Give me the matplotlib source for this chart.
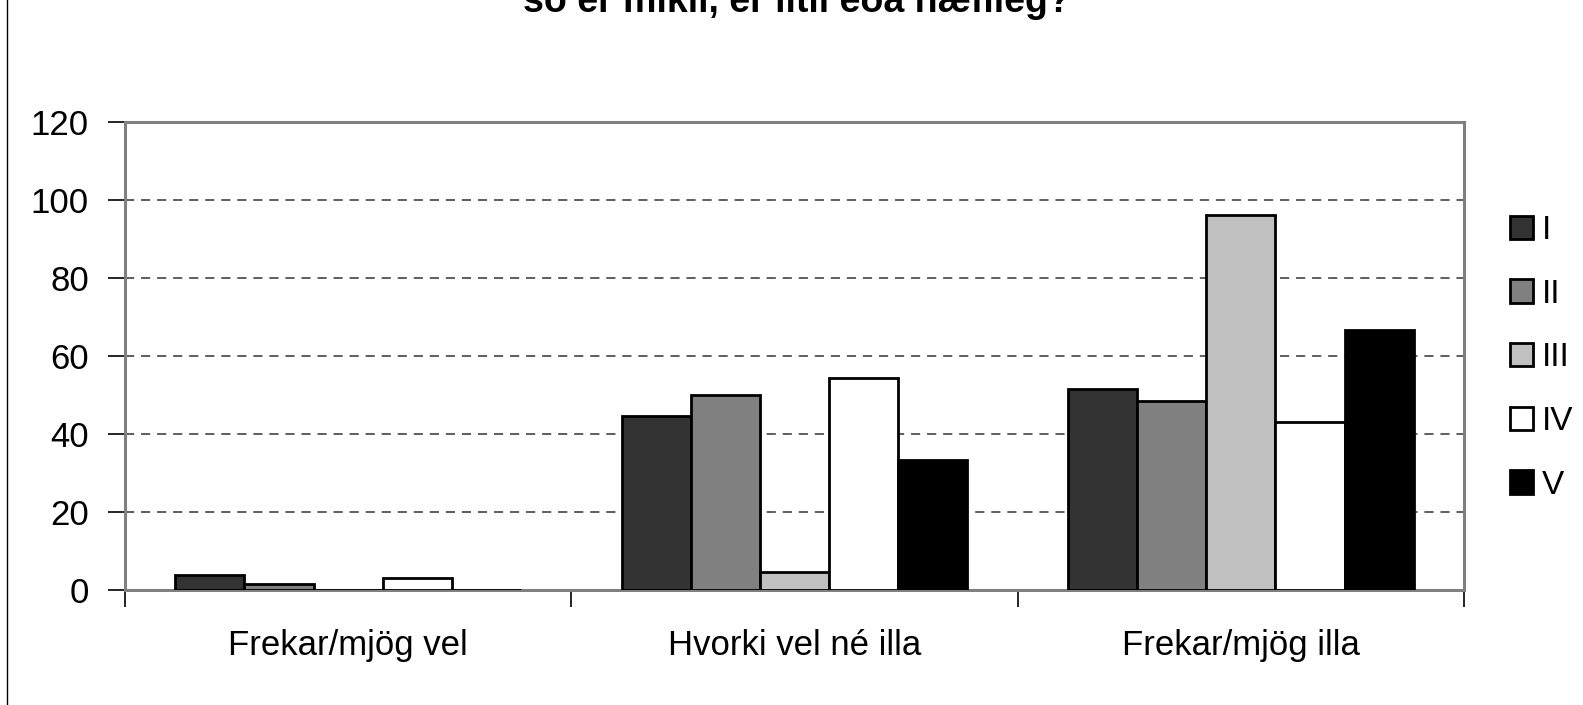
import matplotlib
matplotlib.use("Agg")
import matplotlib.pyplot as plt
import numpy as np
from matplotlib import font_manager
from matplotlib.patches import Patch
from matplotlib.lines import Line2D

names = {f.name for f in font_manager.fontManager.ttflist}
fam = ['Liberation Sans Narrow', 'DejaVu Sans'] if 'Liberation Sans Narrow' in names else ['Liberation Sans', 'DejaVu Sans']
plt.rcParams['font.family'] = fam

categories = ["Frekar/mjög vel", "Hvorki vel né illa", "Frekar/mjög illa"]
series = ["I", "II", "III", "IV", "V"]
values = {
    "I":   [3.9, 44.6, 51.5],
    "II":  [1.5, 49.9, 48.4],
    "III": [0.0, 4.5, 96.1],
    "IV":  [3.0, 54.4, 43.2],
    "V":   [0.0, 33.3, 66.7],
}
colors = ["#333333", "#808080", "#c0c0c0", "#ffffff", "#000000"]
yticks = [0, 20, 40, 60, 80, 100, 120]
title = "so er mikil, er lítil eða hæfileg?"

W, H = 1583, 705
fig = plt.figure(figsize=(W / 100, H / 100), dpi=100)
ax = fig.add_axes([125 / W, 1 - 590 / H, (1464 - 125) / W, (590 - 122) / H])

x = np.arange(len(categories))
w = 0.155
for i, s in enumerate(series):
    ax.bar(x + (i - 2) * w, values[s], width=w, color=colors[i],
           edgecolor="black", linewidth=2.0, zorder=3)

ax.set_xlim(-0.5, 2.5)
ax.set_ylim(0, 120)
ax.set_yticks(yticks)
ax.set_yticklabels([str(v) for v in yticks], fontsize=25)
for v in yticks[1:-1]:
    ax.axhline(v, color="#333333", linestyle=(0, (6, 4.5)), linewidth=1.1, zorder=1)

ax.set_xticks([-0.5, 0.5, 1.5, 2.5])
ax.set_xticklabels([])
ax.tick_params(axis="x", length=12, width=1.2, color="black", direction="out")
ax.tick_params(axis="y", length=12, width=1.2, color="black", direction="out", pad=14)
for i, c in enumerate(categories):
    ax.text(x[i], -0.118, c, transform=ax.get_xaxis_transform(), ha="center", va="center",
            fontsize=25)

for sp in ax.spines.values():
    sp.set_color("#808080")
    sp.set_linewidth(2.2)

handles = [Patch(facecolor=colors[i], edgecolor="black", linewidth=2.0, label=s)
           for i, s in enumerate(series)]
fig.legend(handles=handles, loc="center left", bbox_to_anchor=(1510 / W, 1 - 358 / H),
           frameon=False, fontsize=24, labelspacing=0.98, handlelength=0.7,
           handleheight=0.7, handletextpad=0.25, borderpad=0, borderaxespad=0)

fig.text(797 / W, 1 - 12 / H, title, ha="center", va="baseline", fontsize=27,
         fontweight="bold")

fig.add_artist(Line2D([7 / W, 7 / W], [0, 1], transform=fig.transFigure, color="black", linewidth=1))

fig.savefig("out.png", dpi=100)
